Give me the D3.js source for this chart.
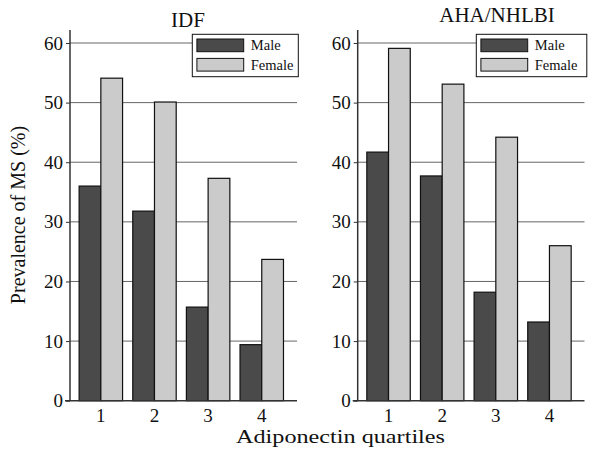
<!DOCTYPE html>
<html>
<head>
<meta charset="utf-8">
<script src="https://cdn.jsdelivr.net/npm/d3@7"></script>
<style>
  body { margin: 0; background: #fff; }
  text { font-family: "Liberation Serif", "Times New Roman", serif; fill: #111; }
</style>
</head>
<body>
<div id="chart"></div>
<script>
// data
var quartiles = ["1", "2", "3", "4"];
var sexes = ["Male", "Female"];
var idfMale = [36.0, 31.8, 15.7, 9.4];
var idfFemale = [54.1, 50.1, 37.3, 23.7];
var ahaMale = [41.7, 37.7, 18.2, 13.2];
var ahaFemale = [59.1, 53.1, 44.2, 26.0];
var yTicks = [0, 10, 20, 30, 40, 50, 60];
var colors = { Male: "#4a4a4a", Female: "#cbcbcb" };

var svg = d3.select("#chart").append("svg")
    .attr("width", 597)
    .attr("height", 449);

var y = d3.scaleLinear()
    .domain([0, 60])
    .range([400.7, 43]);

var panels = [
    { title: "IDF", male: idfMale, female: idfFemale, x0: 70, x1: 297,
      titleX: 188, titleY: 26.7, legX: 192.3, legW: 106 },
    { title: "AHA/NHLBI", male: ahaMale, female: ahaFemale, x0: 357.7, x1: 584.5,
      titleX: 497, titleY: 21.7, legX: 476.3, legW: 110.5 }
];

panels.forEach(function (p) {
    var g = svg.append("g");

    // quartile bands
    var x = d3.scaleBand()
        .domain(quartiles)
        .range([p.x0, p.x0 + 222.6])
        .paddingInner(0.19)
        .paddingOuter(0.17);
    var xs = d3.scaleBand()
        .domain(sexes)
        .range([0, x.bandwidth()]);

    // gridlines
    g.selectAll(".grid")
        .data(yTicks.slice(1))
        .enter().append("line")
        .attr("x1", p.x0)
        .attr("x2", p.x1)
        .attr("y1", function (d) { return y(d); })
        .attr("y2", function (d) { return y(d); })
        .attr("stroke", "#666")
        .attr("stroke-width", 1);

    // bars
    var rows = quartiles.map(function (q, i) {
        return [{ q: q, s: "Male", v: p.male[i] }, { q: q, s: "Female", v: p.female[i] }];
    });
    g.selectAll(".grp")
        .data(rows)
        .enter().append("g")
        .attr("transform", function (d) { return "translate(" + x(d[0].q) + ",0)"; })
        .selectAll("rect")
        .data(function (d) { return d; })
        .enter().append("rect")
        .attr("x", function (d) { return xs(d.s); })
        .attr("y", function (d) { return y(d.v); })
        .attr("width", xs.bandwidth())
        .attr("height", function (d) { return y(0) - y(d.v); })
        .attr("fill", function (d) { return colors[d.s]; })
        .attr("stroke", "#111")
        .attr("stroke-width", 1.2);

    // y axis
    var ya = g.append("g")
        .attr("transform", "translate(" + p.x0 + ",0)")
        .call(d3.axisLeft(y).tickValues(yTicks).tickSize(4).tickPadding(3));
    ya.select(".domain").remove();
    ya.selectAll(".tick line").attr("stroke", "#333");
    ya.selectAll(".tick text")
        .style("font-family", '"Liberation Serif", serif')
        .style("font-size", "19px")
        .attr("fill", "#111");
    g.append("line")
        .attr("x1", p.x0).attr("x2", p.x0)
        .attr("y1", 30).attr("y2", y(0))
        .attr("stroke", "#333").attr("stroke-width", 1.5);

    // x axis
    var xa = g.append("g")
        .attr("transform", "translate(0," + y(0) + ")")
        .call(d3.axisBottom(x).tickSize(0).tickPadding(8));
    xa.select(".domain").remove();
    xa.selectAll(".tick text")
        .style("font-family", '"Liberation Serif", serif')
        .style("font-size", "19px")
        .attr("fill", "#111");
    g.append("line")
        .attr("x1", p.x0 - 5).attr("x2", p.x1)
        .attr("y1", y(0)).attr("y2", y(0))
        .attr("stroke", "#333").attr("stroke-width", 1.5);

    // title
    g.append("text")
        .attr("x", p.titleX)
        .attr("y", p.titleY)
        .attr("text-anchor", "middle")
        .style("font-size", "21px")
        .text(p.title);

    // legend
    var leg = g.append("g").attr("transform", "translate(" + p.legX + ",34.3)");
    leg.append("rect")
        .attr("width", p.legW).attr("height", 42.4)
        .attr("fill", "#fff").attr("stroke", "#111").attr("stroke-width", 1);
    sexes.forEach(function (s, i) {
        leg.append("rect")
            .attr("x", 4.6).attr("y", 4.7 + i * 19.4)
            .attr("width", 46.8).attr("height", 12.7)
            .attr("fill", colors[s]).attr("stroke", "#111").attr("stroke-width", 1);
        leg.append("text")
            .attr("x", 58.5).attr("y", 16 + i * 19.6)
            .style("font-size", "14.5px")
            .text(s);
    });
});

// shared axis titles
svg.append("text")
    .attr("transform", "translate(25,215) rotate(-90)")
    .attr("text-anchor", "middle")
    .style("font-size", "20px")
    .text("Prevalence of MS (%)");

svg.append("text")
    .attr("x", 236)
    .attr("y", 442.5)
    .attr("textLength", 209)
    .attr("lengthAdjust", "spacingAndGlyphs")
    .style("font-size", "19px")
    .text("Adiponectin quartiles");
</script>
</body>
</html>
